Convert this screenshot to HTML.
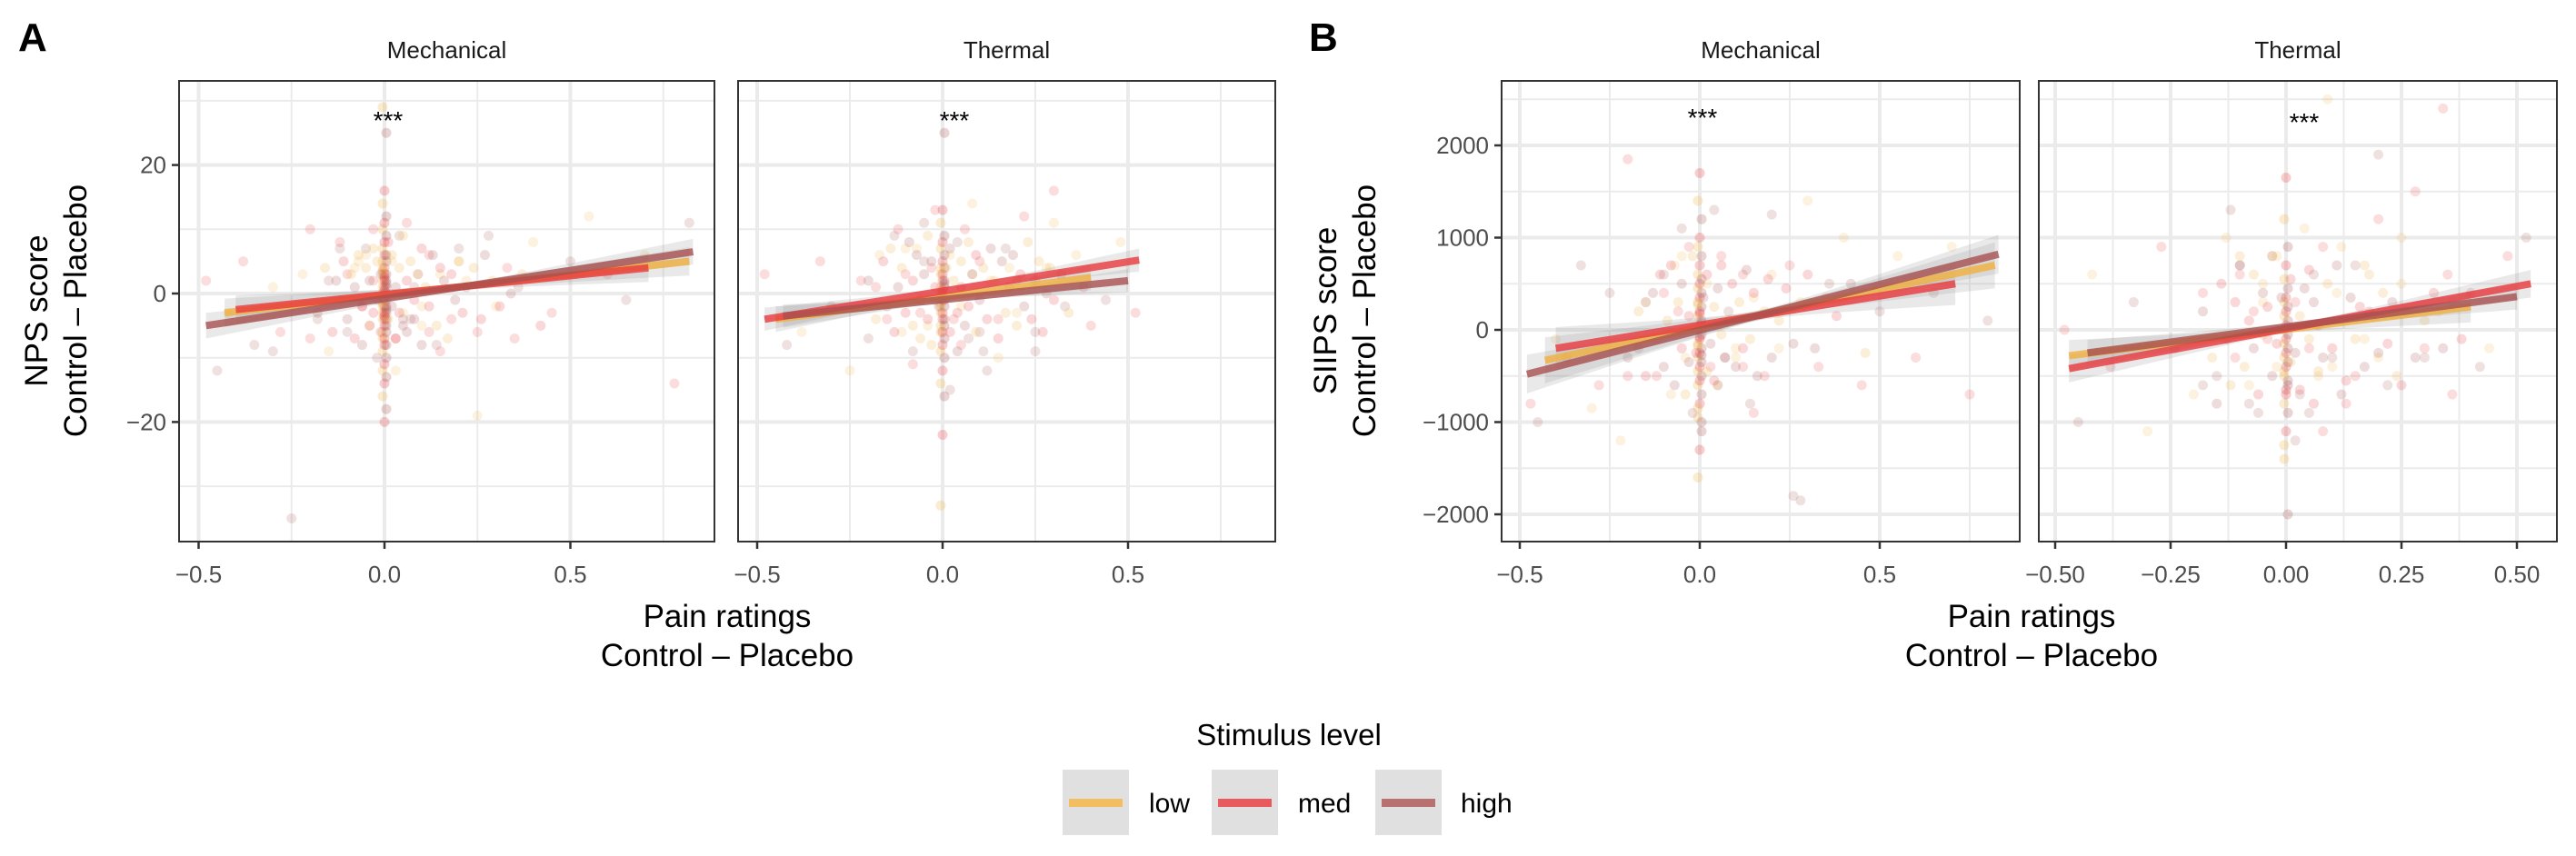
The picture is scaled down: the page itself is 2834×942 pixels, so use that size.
<!DOCTYPE html>
<html><head><meta charset="utf-8">
<style>
html,body{margin:0;padding:0;background:#fff;}
svg{display:block;font-family:"Liberation Sans",Arial,sans-serif;}
</style></head>
<body>
<svg id="chart" width="2834" height="942" viewBox="0 0 2834 942" xmlns="http://www.w3.org/2000/svg">
<g id="layer"></g>
</svg>
<script>
// ---------- data ----------
const levels = ["low","med","high"];
const levelColors = ["#f0b040","#e8383c","#a85050"];
const panelNames = ["nps-mechanical","nps-thermal","siips-mechanical","siips-thermal"];
const stripTitles = ["Mechanical","Thermal","Mechanical","Thermal"];
const npsXTicks = [-0.5,0,0.5];
const npsXTickLabels = ["-0.5","0.0","0.5"];
const npsYTicks = [-20,0,20];
const npsYTickLabels = ["\u221220","0","20"];
const siipsYTicks = [-2000,-1000,0,1000,2000];
const siipsYTickLabels = ["\u22122000","\u22121000","0","1000","2000"];
const siipsThermXTicks = [-0.5,-0.25,0,0.25,0.5];
const siipsThermXTickLabels = ["\u22120.50","\u22120.25","0.00","0.25","0.50"];
// zero-x cluster y values
const npsMechZeroY = [-16,-14,-13,-12,-11,-10,-9,-8,-8,-7,-7,-6,-6,-5,-5,-4,-4,-4,-3,-3,-3,-2,-2,-2,-1,-1,-1,0,0,0,1,1,1,2,2,2,3,3,3,4,4,5,5,6,6,7,8,9,10,11,12,14,16,25,29,-20,-18,-0.5,0.5,1.5,-1.5,2.5,-2.5,3.5,-3.5];
const npsMechX = [-0.48,-0.45,-0.42,-0.38,-0.35,-0.3,-0.28,-0.25,-0.22,-0.2,-0.18,-0.15,-0.12,-0.1,-0.08,-0.06,-0.05,-0.04,-0.03,-0.02,0.02,0.03,0.04,0.05,0.06,0.08,0.1,0.12,0.14,0.15,0.18,0.2,0.22,0.25,0.28,0.3,0.33,0.36,0.4,0.45,0.5,0.55,0.6,0.65,0.7,0.78,0.82,0.1,-0.1,0.05,-0.05,0.15,-0.15,0.2,-0.2,0.07,-0.07,0.12,-0.12,0.03,-0.03,0.09,0.25,0.35,-0.3,-0.25];
const npsMechY = [2,-12,-3,5,-8,1,-6,-35,3,10,-4,-9,8,-6,4,-2,7,-5,2,-10,5,-7,9,-3,11,1,-5,6,-8,3,-4,7,2,-6,9,-2,4,1,8,-3,5,12,3,-1,6,-14,11,-2,3,-4,6,-9,2,5,-7,-4,5,-6,7,-12,10,3,-19,-7,-9,-2];
const npsMechCoreX = [-0.18,-0.16,-0.14,-0.13,-0.12,-0.11,-0.1,-0.09,-0.08,-0.08,-0.07,-0.06,-0.06,-0.05,-0.04,-0.04,-0.03,-0.03,-0.02,-0.02,-0.01,-0.01,0.01,0.01,0.02,0.02,0.03,0.03,0.04,0.04,0.05,0.05,0.06,0.06,0.07,0.08,0.08,0.09,0.1,0.1,0.11,0.12,0.13,0.14,0.15,0.16,0.17,0.18,0.19,0.2,0.21,0.22,0.24,0.26,0.27,0.29,0.31,0.34,0.37,0.42];
const npsMechCoreY = [-3,4,-6,2,-1,5,-4,3,-7,1,6,-2,-8,4,-5,2,7,-3,-1,5,-6,3,-4,8,-2,6,-7,1,4,-3,-5,9,2,-6,5,-1,-4,3,7,-8,1,-2,6,-5,4,2,-7,3,-1,5,-3,1,4,-4,6,2,-2,0,3,-5];
const npsThermZeroY = [-14,-12,-10,-9,-8,-7,-6,-6,-5,-5,-4,-4,-3,-3,-2,-2,-1,-1,0,0,1,1,2,2,3,3,4,4,5,6,7,8,9,11,13,25,-33,-22,-16,-0.5,0.5,1.5,-1.5];
const npsThermX = [-0.48,-0.42,-0.38,-0.33,-0.3,-0.25,-0.22,-0.2,-0.17,-0.15,-0.13,-0.11,-0.1,-0.08,-0.07,-0.06,-0.05,-0.04,-0.03,-0.02,0.02,0.03,0.04,0.05,0.06,0.07,0.08,0.1,0.11,0.13,0.15,0.17,0.2,0.22,0.25,0.28,0.3,0.33,0.36,0.4,0.44,0.48,0.52,0.1,-0.1,0.05,-0.05,0.15,-0.12,0.2,0.08,-0.08,0.12,0.18,-0.18,0.25,0.3,-0.02,0.02];
const npsThermY = [3,-8,-6,5,-2,-12,2,-7,6,-4,9,-6,3,-9,7,-3,11,-5,4,-1,6,-4,8,-2,10,-7,3,5,-9,2,-4,7,-3,12,-6,4,16,-2,6,-5,-1,8,-3,-6,7,-8,5,-10,10,2,14,-11,-12,4,1,-9,11,13,-15];
const npsThermCoreX = [-0.2,-0.18,-0.16,-0.15,-0.14,-0.13,-0.12,-0.11,-0.1,-0.09,-0.08,-0.08,-0.07,-0.06,-0.06,-0.05,-0.04,-0.04,-0.03,-0.03,-0.02,-0.01,0.01,0.02,0.02,0.03,0.04,0.04,0.05,0.05,0.06,0.07,0.07,0.08,0.09,0.09,0.1,0.11,0.12,0.13,0.14,0.15,0.16,0.17,0.18,0.19,0.2,0.21,0.22,0.23,0.24,0.25,0.26,0.27,0.28,0.29,0.3,0.32,0.34,0.38];
const npsThermCoreY = [2,-4,5,-2,7,-6,1,4,-3,8,-5,2,6,-7,-1,3,9,-4,5,-8,1,-2,4,-6,7,2,-3,-9,5,1,-5,8,-2,3,-6,6,-1,4,-4,7,2,-7,5,-3,1,6,-5,3,-2,8,-4,2,5,-6,0,4,-1,3,-3,1];
const siipsMechZeroY = [-1600,-1300,-1100,-950,-800,-700,-600,-550,-500,-450,-400,-350,-300,-250,-200,-150,-100,-50,0,50,100,150,200,250,300,350,400,450,500,550,600,700,800,900,1000,1200,1400,1700,-1000,-850,-75,75,-175,175,-275,275];
const siipsMechX = [-0.47,-0.45,-0.4,-0.37,-0.33,-0.3,-0.28,-0.25,-0.22,-0.2,-0.17,-0.15,-0.12,-0.1,-0.08,-0.06,-0.05,-0.04,-0.03,-0.02,0.02,0.03,0.04,0.05,0.06,0.08,0.1,0.12,0.14,0.15,0.18,0.2,0.22,0.25,0.28,0.3,0.33,0.36,0.4,0.45,0.5,0.55,0.6,0.65,0.7,0.75,0.8,0.1,-0.1,0.05,-0.05,0.15,-0.15,0.2,-0.2,0.07,-0.07,0.12,0.26,0.3];
const siipsMechY = [-800,-1000,-100,-300,700,-850,-600,400,-1200,1850,-200,300,-500,600,-700,200,1100,-300,900,-900,500,-400,1300,-600,800,200,-300,600,-800,350,-500,1250,-200,700,-1850,300,-400,500,1000,-600,200,800,-300,400,900,-700,100,-200,400,-600,800,-900,300,600,-500,-300,700,-400,-1800,1400];
const siipsMechCoreX = [-0.2,-0.17,-0.15,-0.13,-0.12,-0.11,-0.1,-0.09,-0.08,-0.07,-0.06,-0.05,-0.05,-0.04,-0.03,-0.03,-0.02,-0.01,0.01,0.02,0.02,0.03,0.04,0.04,0.05,0.06,0.06,0.07,0.08,0.09,0.1,0.11,0.12,0.13,0.14,0.15,0.16,0.18,0.19,0.2,0.22,0.24,0.26,0.28,0.3,0.32,0.35,0.38,0.42,0.46];
const siipsMechCoreY = [-300,200,-500,400,-100,600,-400,100,700,-600,300,-200,500,-700,150,-350,800,-250,350,-450,600,-150,250,-550,450,-50,700,-300,100,500,-400,300,-200,650,-100,400,-500,200,550,-300,100,450,-150,300,600,-200,350,150,500,-250];
const siipsThermZeroY = [-1400,-1100,-900,-800,-650,-550,-450,-400,-350,-300,-250,-200,-150,-100,-50,0,50,100,150,200,250,300,350,450,550,700,900,1200,1650,-2000,-1250,-700,-600,-500];
const siipsThermX = [-0.48,-0.45,-0.42,-0.38,-0.33,-0.3,-0.27,-0.24,-0.2,-0.18,-0.15,-0.13,-0.11,-0.1,-0.08,-0.07,-0.06,-0.05,-0.04,-0.03,-0.02,0.02,0.03,0.04,0.05,0.06,0.07,0.08,0.1,0.11,0.13,0.15,0.17,0.2,0.22,0.25,0.28,0.3,0.33,0.36,0.4,0.44,0.48,0.52,0.1,-0.1,0.05,-0.05,0.15,-0.12,0.2,0.08,-0.08,0.12,0.18,-0.18,0.25,0.3,0.02,-0.02,0.35,0.42,0.09,0.34,0.2];
const siipsThermY = [0,-1000,600,-400,300,-1100,900,-200,-700,400,-500,1000,-300,700,-600,200,-900,500,-100,800,-400,300,-700,1100,-200,600,-500,900,-300,400,-800,700,-100,1200,-600,500,1500,-300,200,-700,400,-200,800,1000,-400,600,-900,300,-500,1300,-300,-1100,-800,900,200,-600,1000,-200,-1200,800,600,-400,2500,2400,1900];
const siipsThermCoreX = [-0.18,-0.16,-0.14,-0.13,-0.12,-0.11,-0.1,-0.09,-0.08,-0.07,-0.07,-0.06,-0.05,-0.05,-0.04,-0.03,-0.03,-0.02,-0.01,0.01,0.01,0.02,0.03,0.03,0.04,0.05,0.05,0.06,0.07,0.07,0.08,0.09,0.1,0.11,0.12,0.13,0.14,0.15,0.16,0.17,0.18,0.19,0.2,0.21,0.22,0.23,0.24,0.26,0.28,0.3,0.32,0.34,0.36,0.38,-0.15,-0.1,0.06,0.12,0.17,0.25];
const siipsThermCoreY = [200,-300,500,-100,-600,300,700,-400,100,-200,600,-700,400,-50,250,-500,800,-150,350,-350,550,-250,150,-650,450,-100,650,300,-450,50,-300,500,-200,700,100,-550,350,-100,250,-400,600,150,-250,400,-150,300,-500,200,-300,100,400,-200,300,-100,-800,800,-800,-700,700,-600];
// regression lines per panel: [low, med, high]
const fitX0 = [[-0.43,-0.40,-0.48],[-0.45,-0.48,-0.43],[-0.43,-0.40,-0.48],[-0.47,-0.47,-0.43]];
const fitX1 = [[0.82,0.71,0.83],[0.40,0.53,0.50],[0.82,0.71,0.83],[0.40,0.53,0.50]];
const fitY0 = [[-3,-2.5,-5],[-4,-4,-3.5],[-330,-200,-480],[-280,-420,-250]];
const fitY1 = [[5,4,6.5],[2.5,5.2,2],[700,500,820],[250,500,360]];
const seEnd = [[2.2,2.2,2],[2,1.8,1.8],[250,230,210],[170,150,140]];
const seMid = [[0.5,0.5,0.5],[0.4,0.4,0.4],[50,50,50],[40,40,40]];
// ---------- layout ----------
const panels = [
 {bx0:197,bx1:786,by0:89,by1:596, x0:423,xs:409, y0:323,ys:7.07, xT:npsXTicks,xL:npsXTickLabels,xMinor:[-0.25,0.25,0.75], yT:npsYTicks,yL:npsYTickLabels,yMinor:[-30,-10,10,30], zero:npsMechZeroY,px:npsMechX,py:npsMechY,cx:npsMechCoreX,cy:npsMechCoreY, star:[427,130], ytick:true},
 {bx0:812,bx1:1403,by0:89,by1:596, x0:1037,xs:408, y0:323,ys:7.07, xT:npsXTicks,xL:npsXTickLabels,xMinor:[-0.25,0.25,0.75], yT:npsYTicks,yL:npsYTickLabels,yMinor:[-30,-10,10,30], zero:npsThermZeroY,px:npsThermX,py:npsThermY,cx:npsThermCoreX,cy:npsThermCoreY, star:[1050,130], ytick:false},
 {bx0:1652,bx1:2222,by0:89,by1:596, x0:1870,xs:396, y0:363,ys:0.1015, xT:npsXTicks,xL:npsXTickLabels,xMinor:[-0.25,0.25,0.75], yT:siipsYTicks,yL:siipsYTickLabels,yMinor:[-1500,-500,500,1500,2500], zero:siipsMechZeroY,px:siipsMechX,py:siipsMechY,cx:siipsMechCoreX,cy:siipsMechCoreY, star:[1873,127], ytick:true},
 {bx0:2243,bx1:2813,by0:89,by1:596, x0:2515,xs:508, y0:363,ys:0.1015, xT:siipsThermXTicks,xL:siipsThermXTickLabels,xMinor:[-0.375,-0.125,0.125,0.375], yT:siipsYTicks,yL:siipsYTickLabels,yMinor:[-1500,-500,500,1500,2500], zero:siipsThermZeroY,px:siipsThermX,py:siipsThermY,cx:siipsThermCoreX,cy:siipsThermCoreY, star:[2535,132], ytick:false}
];
const NS="http://www.w3.org/2000/svg";
const layer=document.getElementById("layer");
function mk(tag,attrs,parent){const e=document.createElementNS(NS,tag);for(const k in attrs)e.setAttribute(k,attrs[k]);(parent||layer).appendChild(e);return e;}
function txt(s,attrs,parent){const e=mk("text",attrs,parent);e.textContent=s;return e;}

panels.forEach((p,pi)=>{
  const g=mk("g",{});
  
  
  const X=v=>p.x0+p.xs*v, Y=v=>p.y0-p.ys*v;
  const clip=mk("clipPath",{id:"c"+pi},g);
  mk("rect",{x:p.bx0,y:p.by0,width:p.bx1-p.bx0,height:p.by1-p.by0},clip);
  const inner=mk("g",{"clip-path":"url(#c"+pi+")"},g);
  p.xMinor.forEach(v=>mk("line",{x1:X(v),x2:X(v),y1:p.by0,y2:p.by1,stroke:"#ebebeb","stroke-width":2},inner));
  p.yMinor.forEach(v=>mk("line",{x1:p.bx0,x2:p.bx1,y1:Y(v),y2:Y(v),stroke:"#ebebeb","stroke-width":2},inner));
  p.xT.forEach(v=>mk("line",{x1:X(v),x2:X(v),y1:p.by0,y2:p.by1,stroke:"#ebebeb","stroke-width":4},inner));
  p.yT.forEach(v=>mk("line",{x1:p.bx0,x2:p.bx1,y1:Y(v),y2:Y(v),stroke:"#ebebeb","stroke-width":4},inner));
  const pts=mk("g",{},inner);
  
  
  p.zero.forEach((v,i)=>{
    const c=mk("circle",{cx:X(0)+((i%3)-1)*2,cy:Y(v),r:5.5,fill:levelColors[i%3],"fill-opacity":0.25},pts);
    
    
  });
  p.px.forEach((xv,i)=>{
    const c=mk("circle",{cx:X(xv),cy:Y(p.py[i]),r:5.5,fill:levelColors[(i+1)%3],"fill-opacity":0.17},pts);
    
    
  });
  p.cx.forEach((xv,i)=>{
    const c=mk("circle",{cx:X(xv),cy:Y(p.cy[i]),r:5.5,fill:levelColors[(i+2)%3],"fill-opacity":0.2},pts);
    
    
  });
  for(let l=0;l<3;l++){
    const a=fitX0[pi][l], b=fitX1[pi][l], ya=fitY0[pi][l], yb=fitY1[pi][l];
    const m=(a+b)/2, se=seEnd[pi][l], sm=seMid[pi][l];
    const n=20, up=[], dn=[];
    for(let k=0;k<=n;k++){const x=a+(b-a)*k/n; const y=ya+(yb-ya)*k/n; const t=(x-m)/((b-a)/2); const h=Math.sqrt(sm*sm+(se*se-sm*sm)*t*t); up.push(X(x)+","+Y(y+h)); dn.unshift(X(x)+","+Y(y-h));}
    const r=mk("polygon",{points:up.concat(dn).join(" "),fill:"#999","fill-opacity":0.22},inner);
    
    
  }
  for(let l=0;l<3;l++){
    const ln=mk("line",{x1:X(fitX0[pi][l]),y1:Y(fitY0[pi][l]),x2:X(fitX1[pi][l]),y2:Y(fitY1[pi][l]),stroke:levelColors[l],"stroke-width":8,"stroke-opacity":0.8},inner);
    
    
  }
  mk("rect",{x:p.bx0,y:p.by0,width:p.bx1-p.bx0,height:p.by1-p.by0,fill:"none",stroke:"#333","stroke-width":2},g);
  const st=txt("***",{x:p.star[0],y:p.star[1]+12,"text-anchor":"middle","font-size":28,fill:"#000"},g);
  
  
  const sTitle=txt(stripTitles[pi],{x:(p.bx0+p.bx1)/2,y:64,"text-anchor":"middle","font-size":26,fill:"#1a1a1a"},g);
  
  
  p.xT.forEach((v,i)=>{
    mk("line",{x1:X(v),x2:X(v),y1:p.by1,y2:p.by1+8,stroke:"#333","stroke-width":2.5},g);
    const t=txt(p.xL[i].replace("-","\u2212"),{x:X(v),y:641,"text-anchor":"middle","font-size":26,fill:"#4d4d4d"},g);
    
    
  });
  if(p.ytick){
    p.yT.forEach((v,i)=>{
      mk("line",{x1:p.bx0-8,x2:p.bx0,y1:Y(v),y2:Y(v),stroke:"#333","stroke-width":2.5},g);
      const t=txt(p.yL[i],{x:p.bx0-14,y:Y(v)+9,"text-anchor":"end","font-size":26,fill:"#4d4d4d"},g);
      
      
    });
  }
});
</script>
<script>
const svg=document.getElementById("chart");
function T(s,a,name){const e=document.createElementNS("http://www.w3.org/2000/svg","text");for(const k in a)e.setAttribute(k,a[k]);e.textContent=s;


svg.appendChild(e);return e;}
T("A",{x:20,y:56,"font-size":44,"font-weight":"bold",fill:"#000"},"panel-label-a");
T("B",{x:1440,y:56,"font-size":44,"font-weight":"bold",fill:"#000"},"panel-label-b");
T("NPS score",{x:0,y:0,transform:"translate(52,342) rotate(-90)","text-anchor":"middle","font-size":35,fill:"#000"},"y-axis-title-nps");
T("Control \u2013 Placebo",{x:0,y:0,transform:"translate(95,342) rotate(-90)","text-anchor":"middle","font-size":35,fill:"#000"},"y-axis-title-nps-line2");
T("SIIPS score",{x:0,y:0,transform:"translate(1470,342) rotate(-90)","text-anchor":"middle","font-size":35,fill:"#000"},"y-axis-title-siips");
T("Control \u2013 Placebo",{x:0,y:0,transform:"translate(1513,342) rotate(-90)","text-anchor":"middle","font-size":35,fill:"#000"},"y-axis-title-siips-line2");
T("Pain ratings",{x:800,y:690,"text-anchor":"middle","font-size":35,fill:"#000"},"x-axis-title-a");
T("Control \u2013 Placebo",{x:800,y:733,"text-anchor":"middle","font-size":35,fill:"#000"},"x-axis-title-a-line2");
T("Pain ratings",{x:2235,y:690,"text-anchor":"middle","font-size":35,fill:"#000"},"x-axis-title-b");
T("Control \u2013 Placebo",{x:2235,y:733,"text-anchor":"middle","font-size":35,fill:"#000"},"x-axis-title-b-line2");
T("Stimulus level",{x:1418,y:820,"text-anchor":"middle","font-size":33,fill:"#000"},"legend-title");
const keyX=[1169,1333,1513], labX=[1264,1428,1607];
const keyCol=["#f2be5f","#e95a5e","#b87070"];
["low","med","high"].forEach((lab,i)=>{
  const r=document.createElementNS("http://www.w3.org/2000/svg","rect");
  r.setAttribute("x",keyX[i]);r.setAttribute("y",847);r.setAttribute("width",73);r.setAttribute("height",72);r.setAttribute("fill","#e0e0e0");
  
  
  svg.appendChild(r);
  const l=document.createElementNS("http://www.w3.org/2000/svg","rect");
  l.setAttribute("x",keyX[i]+7);l.setAttribute("y",879);l.setAttribute("width",59);l.setAttribute("height",9);l.setAttribute("fill",keyCol[i]);
  
  
  svg.appendChild(l);
  T(lab,{x:labX[i],y:894,"font-size":30,fill:"#000"},"legend-label-"+lab);
});
</script>
</body></html>
